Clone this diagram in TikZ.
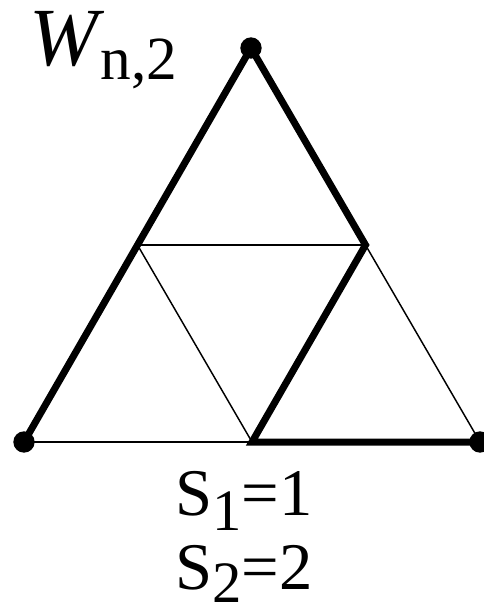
\documentclass[tikz,border=0pt]{standalone}
\usepackage{fontspec}
\setmainfont{Liberation Serif}
\usetikzlibrary{calc}
\newcommand{\subtxt}[3]{\raisebox{-#1}{\fontsize{#2}{48}\selectfont #3}}
\begin{document}
\begin{tikzpicture}[x=0.75pt,y=-0.75pt,
  thickedge/.style={line width=5.25pt,line join=miter,line cap=butt},
  thinedge/.style={line width=1.1pt},
  dot/.style={circle,fill=black,inner sep=0pt,minimum size=16pt},
  lbl/.style={anchor=base west,inner sep=0pt,font=\fontsize{50}{56}\selectfont}]
\useasboundingbox (0,0) rectangle (484,610);
\coordinate (T) at (251,48);
\coordinate (BL) at (24,442);
\coordinate (BR) at (480,442);
\coordinate (LM) at ($(T)!0.5!(BL)$);
\coordinate (RM) at ($(T)!0.5!(BR)$);
\coordinate (BM) at ($(BL)!0.5!(BR)$);
\draw[thinedge] (BL) -- (BM);
\draw[thinedge] (LM) -- (RM);
\draw[thinedge] (LM) -- (BM);
\draw[thinedge] (RM) -- (BR);
\draw[thickedge] (BL) -- (T) -- (RM) -- (BM) -- (BR);
\node[dot] (dT) at (T) {};
\node[dot] (dBL) at (BL) {};
\node[dot] (dBR) at (BR) {};
\node[lbl] (w) at (29,65) {{\fontsize{62}{66}\selectfont\textit{W}}\kern-3pt\subtxt{11pt}{46}{n,2}};
\node[lbl] (s1) at (175,515) {S\subtxt{11.5pt}{44}{1}=1};
\node[lbl] (s2) at (175,589) {S\subtxt{10pt}{44}{2}=2};
\end{tikzpicture}
\end{document}
